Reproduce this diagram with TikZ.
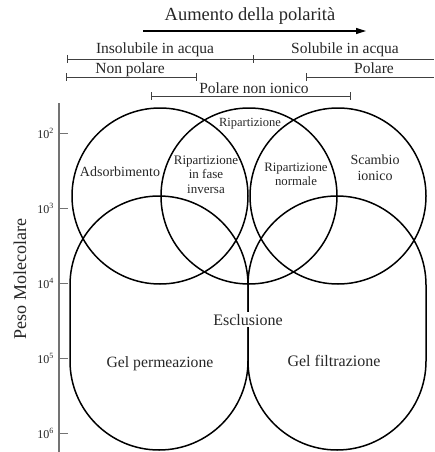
\documentclass[tikz,border=0pt]{standalone}
\usepackage{fontspec}
\setmainfont{Liberation Serif}
\usetikzlibrary{arrows.meta}
\newcommand{\fs}[1]{\fontsize{#1}{#1}\selectfont}
\tikzset{
  shape line/.style={line width=1.5pt, black},
  range line/.style={line width=0.8pt, black!75},
  axis line/.style={line width=1.3pt, black!55},
  lbl/.style={inner sep=0pt, anchor=base, text=black!85},
}
\begin{document}
\begin{tikzpicture}[x=1pt, y=-1pt]
\useasboundingbox (0,0) rectangle (434,452);
% title arrow
\node[lbl, font=\fs{18.5}] (title) at (250,21) {Aumento della polarità};
\coordinate (arS) at (143,31);
\coordinate (arE) at (366,31);
\draw[line width=1.3pt, -{Triangle[length=10pt,width=6pt]}] (arS) -- (arE);
% range lines
\draw[range line] (67,59) -- (434,59);
\draw[range line] (67,55) -- (67,63);
\draw[range line] (253,55) -- (253,63);
\node[lbl, font=\fs{15.5}] (insol) at (155,54) {Insolubile in acqua};
\node[lbl, font=\fs{15.5}] (sol) at (345,54) {Solubile in acqua};
\draw[range line] (66,77) -- (196,77);
\draw[range line] (66,73) -- (66,81);
\draw[range line] (196,73) -- (196,81);
\node[lbl, font=\fs{15.5}] (nonpol) at (130,74) {Non polare};
\draw[range line] (306,77) -- (434,77);
\draw[range line] (306,73) -- (306,81);
\node[lbl, font=\fs{15.5}] (pol) at (374,74) {Polare};
\draw[range line] (151,96) -- (350,96);
\draw[range line] (151,92) -- (151,100);
\draw[range line] (350,92) -- (350,100);
\node[lbl, font=\fs{15.5}] (pni) at (254,93) {Polare non ionico};
% axis
\draw[axis line] (59,103) -- (59,452);
\foreach \y/\e in {133/2,208/3,283/4,358/5,433/6}{
  \draw[axis line, line width=1pt] (59,\y) -- (68,\y);
  \node[lbl, anchor=base east, font=\fs{12}] at (54,\y+5) {10\textsuperscript{\e}};
}
\node[inner sep=0pt, rotate=90, font=\fs{18}, text=black!85] (peso) at (20,279) {Peso Molecolare};
% circles
\draw[shape line] (160,196) circle (88pt);
\draw[shape line] (249,196) circle (88pt);
\draw[shape line] (338,196) circle (88pt);
% stadiums
\draw[shape line] (70,285) -- (70,361) arc[start angle=180, end angle=360, radius=89pt]
  -- (248,285) arc[start angle=0, end angle=180, radius=89pt] -- cycle;
\draw[shape line] (248,285) -- (248,361) arc[start angle=180, end angle=360, radius=89pt]
  -- (426,285) arc[start angle=0, end angle=180, radius=89pt] -- cycle;
% labels
\node[lbl, font=\fs{14}] (ads) at (120,176) {Adsorbimento};
\node[lbl, font=\fs{13}] (rfi1) at (206,164) {Ripartizione};
\node[lbl, font=\fs{13}] (rfi2) at (206,178) {in fase};
\node[lbl, font=\fs{13}] (rfi3) at (206,193) {inversa};
\node[lbl, font=\fs{12.5}] (rip) at (250,126) {Ripartizione};
\node[lbl, font=\fs{12.8}] (rn1) at (296,171) {Ripartizione};
\node[lbl, font=\fs{12.8}] (rn2) at (296,185) {normale};
\node[lbl, font=\fs{14}] (sc1) at (375,164) {Scambio};
\node[lbl, font=\fs{14}] (sc2) at (375,180) {ionico};
\node[lbl, font=\fs{16}, fill=white, inner sep=2pt] (escl) at (248,325) {Esclusione};
\node[lbl, font=\fs{15.7}] (gp) at (160,367) {Gel permeazione};
\node[lbl, font=\fs{16}] (gf) at (334,366) {Gel filtrazione};
\end{tikzpicture}
\end{document}
